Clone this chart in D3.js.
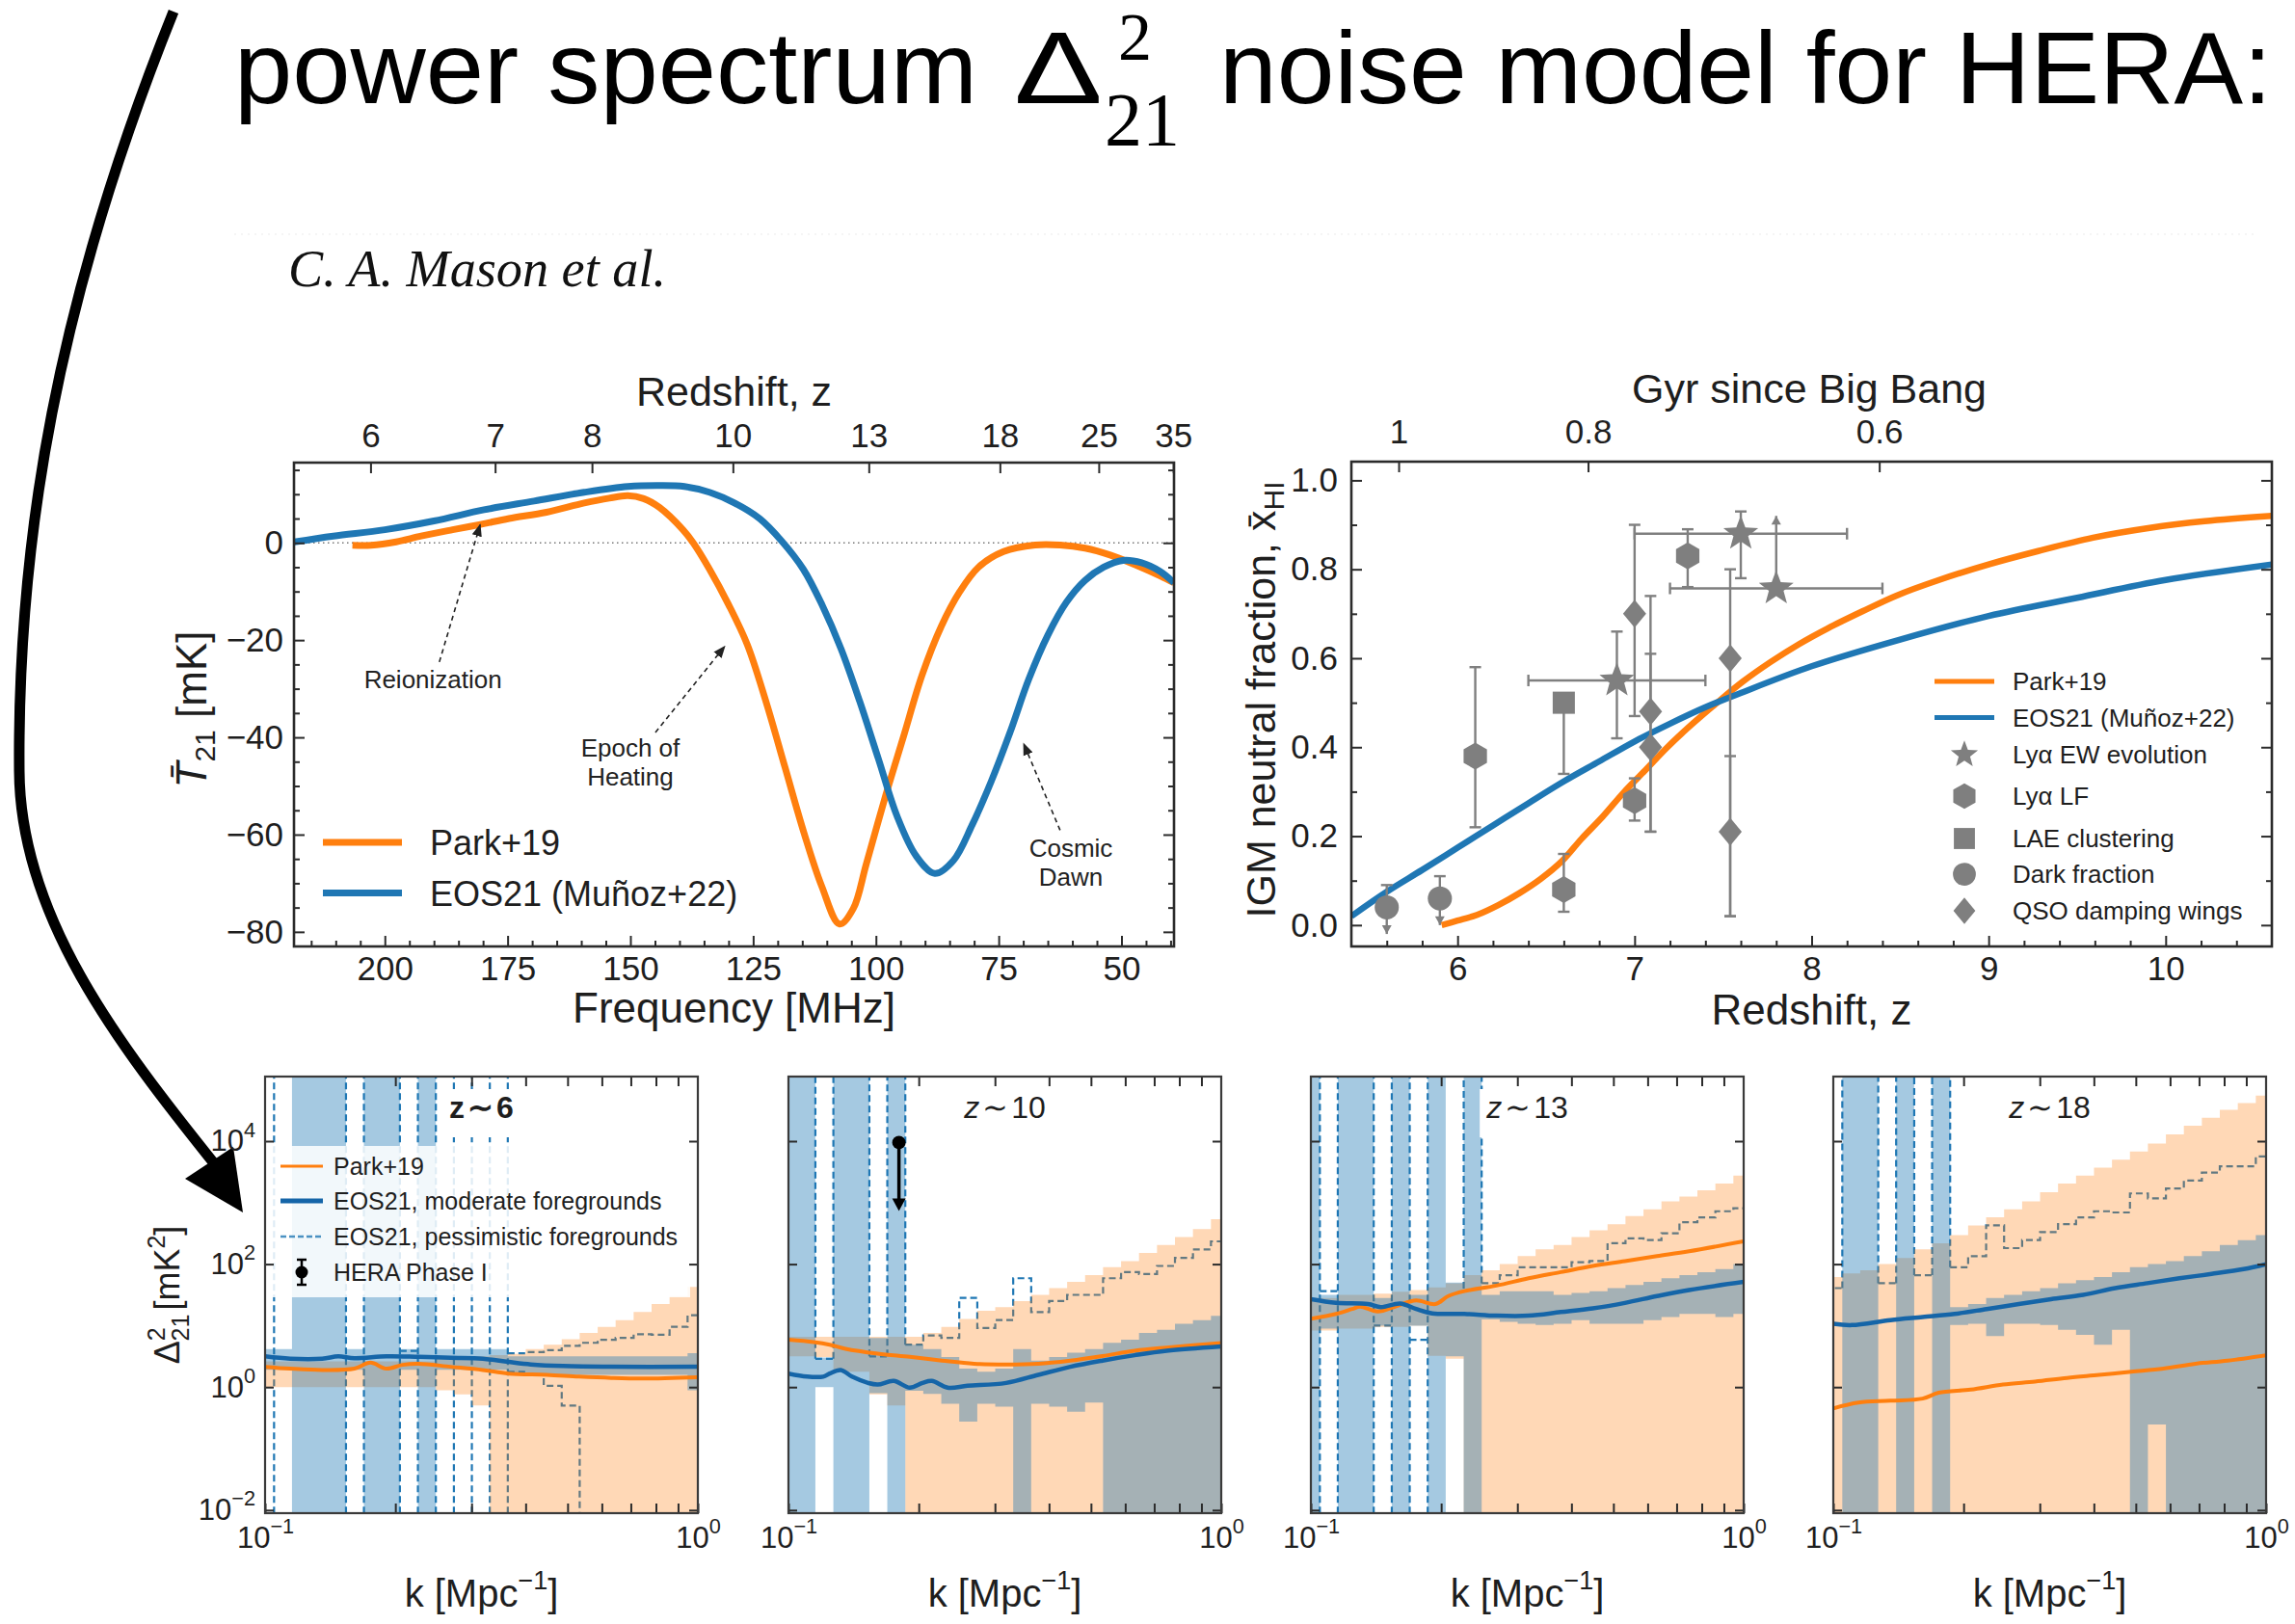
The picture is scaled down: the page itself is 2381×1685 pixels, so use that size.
<!DOCTYPE html>
<html>
<head>
<meta charset="utf-8">
<title>HERA 21-cm power spectrum noise model</title>
<script src="https://cdn.jsdelivr.net/npm/d3@7/dist/d3.min.js"></script>
<style>
html, body { margin: 0; padding: 0; background: #fff; }
svg { display: block; }
text { font-family: "Liberation Sans", Arial, Helvetica, sans-serif; }
</style>
</head>
<body>
<svg id="fig" width="2381" height="1685" viewBox="0 0 2381 1685"></svg>
<script>
const I = Infinity;

// ---------- Global 21-cm brightness temperature vs frequency ----------
const parkFreq = [206.6, 202.8, 197.7, 192.6, 186.2, 180.5, 174.7, 167.1, 159.4, 154.3, 150.5, 147.3, 144.1, 139.3, 137.2, 133.9, 130.0, 126.2, 122.4, 118.5, 114.6, 111.0, 107.4, 104.6, 102.0, 98.2, 94.4, 90.6, 86.7, 82.9, 79.1, 74.0, 67.6, 62.5, 57.4, 52.3, 47.2, 42.1, 39.3];
const parkT = [-0.5, -0.5, 0.2, 1.4, 2.7, 3.8, 5.0, 6.3, 8.2, 9.2, 9.7, 9.1, 7.3, 2.7, 0, -5.4, -12.7, -20.9, -32.6, -46.2, -59.8, -70.7, -78.4, -75.2, -66.2, -52.6, -39.9, -27.2, -17.2, -10.0, -5.0, -1.8, -0.45, -0.45, -1.1, -2.5, -4.5, -6.8, -8.2];
const eosFreq = [218.4, 210.5, 200.0, 190.0, 179.8, 169.6, 159.4, 150.5, 144.1, 139.0, 133.9, 128.8, 123.7, 119.3, 114.8, 111.0, 107.1, 103.3, 99.5, 95.7, 91.8, 88.0, 84.2, 80.4, 76.5, 72.7, 68.9, 65.0, 61.2, 57.4, 53.6, 49.7, 45.9, 42.1, 39.3];
const eosT = [0.2, 1.4, 2.7, 4.5, 6.8, 8.6, 10.4, 11.6, 11.8, 11.6, 10.4, 8.2, 5.0, 0.5, -5.4, -12.7, -21.8, -32.6, -44.4, -56.2, -64.4, -68.0, -65.3, -58.0, -49.0, -39.0, -28.1, -19.0, -12.2, -7.7, -5.0, -3.6, -4.1, -5.9, -8.2];
const freqTicks = [200, 175, 150, 125, 100, 75, 50];
const tempTicks = [0, -20, -40, -60, -80];
const zTopTicks = [6, 7, 8, 10, 13, 18, 25, 35];
// annotations: text anchor, arrow tail, arrow tip (MHz, mK)
const annLines = [["Reionization"], ["Epoch of", "Heating"], ["Cosmic", "Dawn"]];
const annAt = [[190.2, -29.9], [150.0, -43.9], [60.3, -64.6]];
const annTail = [[188.9, -24.5], [144.9, -39.0], [62.5, -59.1]];
const annTip = [[180.6, 3.7], [130.8, -21.3], [69.9, -41.3]];

// ---------- IGM neutral fraction vs redshift ----------
const parkZ = [5.91, 6.0, 6.11, 6.23, 6.35, 6.47, 6.59, 6.70, 6.82, 6.94, 7.06, 7.18, 7.30, 7.46, 7.61, 7.77, 7.93, 8.09, 8.29, 8.48, 8.72, 9.0, 9.28, 9.59, 9.91, 10.22, 10.6];
const parkXHI = [0.0, 0.01, 0.023, 0.045, 0.072, 0.104, 0.144, 0.194, 0.244, 0.299, 0.348, 0.398, 0.443, 0.498, 0.547, 0.592, 0.632, 0.667, 0.706, 0.741, 0.776, 0.811, 0.841, 0.871, 0.893, 0.908, 0.920];
const eosZ = [5.4, 5.6, 5.8, 6.0, 6.2, 6.4, 6.6, 6.8, 7.0, 7.2, 7.4, 7.6, 8.0, 8.5, 9.0, 9.5, 10.0, 10.6];
const eosXHI = [0.02, 0.075, 0.124, 0.174, 0.224, 0.274, 0.323, 0.368, 0.413, 0.453, 0.490, 0.522, 0.582, 0.642, 0.695, 0.736, 0.776, 0.811];
const obsKind = ["circle", "circle", "hexagon", "hexagon", "square", "hexagon", "hexagon", "star", "star", "star", "diamond", "diamond", "diamond", "diamond", "diamond"];
const obsZ = [5.6, 5.9, 6.1, 6.6, 6.6, 7.0, 7.3, 6.9, 7.6, 7.8, 7.0, 7.09, 7.09, 7.54, 7.54];
const obsX = [0.04, 0.06, 0.38, 0.08, 0.50, 0.28, 0.83, 0.55, 0.88, 0.757, 0.70, 0.48, 0.40, 0.60, 0.21];
const obsLo = [-0.02, 0.0, 0.22, 0.03, 0.34, 0.235, 0.76, 0.42, 0.78, 0.757, 0.47, 0.21, 0.21, 0.02, 0.02];
const obsHi = [0.09, 0.11, 0.58, 0.16, 0.50, 0.33, 0.89, 0.66, 0.93, 0.92, 0.90, 0.74, 0.61, 0.80, 0.38];
const obsZLo = [null, null, null, null, null, null, null, 6.4, 7.0, 7.2, null, null, null, null, null];
const obsZHi = [null, null, null, null, null, null, null, 7.4, 8.2, 8.4, null, null, null, null, null];
const obsLimit = ["down", "down", "", "", "", "", "", "", "", "up", "", "", "", "", ""];
const gyrLabels = ["1", "0.8", "0.6"];
const gyrZ = [5.667, 6.737, 8.382];
const legendKinds = ["star", "hexagon", "square", "circle", "diamond"];
const legendKindNames = ["Ly\u03B1 EW evolution", "Ly\u03B1 LF", "LAE clustering", "Dark fraction", "QSO damping wings"];

// ---------- 21-cm power spectra with HERA noise, four redshifts ----------
const panelZ = ["6", "10", "13", "18"];
const kEdges = [0.0953, 0.1049, 0.1154, 0.1270, 0.1397, 0.1538, 0.1692, 0.1862, 0.2049, 0.2255, 0.2481, 0.2731, 0.3005, 0.3306, 0.3638, 0.4003, 0.4405, 0.4847, 0.5333, 0.5869, 0.6457, 0.7106, 0.7818, 0.8603, 0.9468, 1.0418];
// per-bin band edges, log10(Δ² / mK²)
const parkBandLo = [
  [0, 0, 0, 0, 0, 0, 0, 0, 0, 0, -0.05, -0.12, -0.3, -I, -I, -I, -I, -I, -I, -I, -I, -I, -I, -I, -I],
  [0.5, 0.5, 0.49, 0.25, 0.25, -0.12, -0.3, -I, -I, -I, -I, -I, -I, -I, -I, -I, -I, -I, -I, -I, -I, -I, -I, -I, -I],
  [0.92, 0.92, 0.95, 0.95, 0.98, 0.98, 1.0, 0.51, 0.46, -I, -I, -I, -I, -I, -I, -I, -I, -I, -I, -I, -I, -I, -I, -I, -I],
  [-I, -I, -I, -I, -I, -I, -I, -I, -I, -I, -I, -I, -I, -I, -I, -I, -I, -I, -I, -I, -I, -I, -I, -I, -I]
];
const parkBandHi = [
  [0.42, 0.42, 0.42, 0.42, 0.42, 0.42, 0.42, 0.42, 0.42, 0.42, 0.5, 0.5, 0.5, 0.52, 0.54, 0.62, 0.69, 0.78, 0.88, 0.98, 1.09, 1.22, 1.35, 1.48, 1.63],
  [0.82, 0.82, 0.82, 0.82, 0.82, 0.82, 0.82, 0.82, 0.88, 0.98, 1.11, 1.24, 1.30, 1.40, 1.50, 1.61, 1.71, 1.82, 1.95, 2.05, 2.18, 2.31, 2.44, 2.57, 2.73],
  [1.45, 1.45, 1.5, 1.5, 1.52, 1.55, 1.58, 1.62, 1.69, 1.82, 1.90, 2.0, 2.13, 2.24, 2.31, 2.44, 2.55, 2.65, 2.78, 2.89, 3.02, 3.10, 3.20, 3.31, 3.44],
  [1.79, 1.85, 1.90, 2.0, 2.10, 2.24, 2.34, 2.47, 2.63, 2.76, 2.89, 3.02, 3.17, 3.31, 3.44, 3.57, 3.70, 3.83, 3.96, 4.11, 4.25, 4.38, 4.51, 4.62, 4.74]
];
const eosBandLo = [
  [0.28, 0.28, -I, -I, -I, 0.28, -I, -I, 0.28, -I, 0.28, 0.28, 0.28, 0.28, 0.2, 0.2, 0.2, 0.2, 0.2, 0.2, 0.2, 0.2, 0.2, 0.2, -0.05],
  [-I, -I, 0.0, -I, -I, -0.1, -I, -0.06, -0.11, -0.27, -0.56, -0.27, -0.32, -I, -0.27, -0.32, -0.40, -0.25, -I, -I, -I, -I, -I, -I, -I],
  [-I, 0.95, -I, -I, 1.0, -I, 1.0, -I, 0.5, -I, 1.10, 1.06, 1.03, 1.01, 1.03, 1.09, 1.03, 1.03, 1.03, 1.09, 1.14, 1.19, 1.19, 1.14, 1.19],
  [null, -I, -I, null, -I, null, -I, 1.01, 1.03, 0.83, 1.03, 1.03, 1.01, 0.93, 0.85, 0.69, 0.93, -I, -0.61, -I, -I, -I, -I, -I, -I]
];
const eosBandHi = [
  [0.62, 0.62, I, I, I, 0.62, I, I, 0.62, I, 0.62, 0.62, 0.62, 0.62, 0.5, 0.5, 0.5, 0.5, 0.5, 0.5, 0.5, 0.5, 0.5, 0.5, 0.55],
  [I, I, 0.48, I, I, 0.8, I, 0.69, 0.62, 0.49, 0.30, 0.25, 0.30, 0.62, 0.43, 0.49, 0.56, 0.62, 0.72, 0.77, 0.88, 0.93, 1.03, 1.09, 1.16],
  [I, 1.5, I, I, 1.45, I, 1.5, I, 1.7, I, 1.5, 1.56, 1.56, 1.56, 1.50, 1.53, 1.56, 1.61, 1.66, 1.71, 1.77, 1.82, 1.87, 1.92, 2.0],
  [null, I, I, null, I, null, I, 1.30, 1.35, 1.45, 1.50, 1.56, 1.61, 1.69, 1.74, 1.79, 1.87, 1.95, 2.0, 2.05, 2.13, 2.21, 2.31, 2.39, 2.47]
];
const pessHi = [
  [null, null, null, null, null, null, null, null, 0.59, null, null, null, null, null, 0.55, 0.57, 0.60, 0.67, 0.72, 0.77, 0.80, 0.86, 0.85, 0.98, 1.17],
  [null, null, null, null, null, null, null, 0.69, 0.84, 0.80, 1.45, 0.96, 1.09, 1.77, 1.22, 1.40, 1.50, 1.50, 1.77, 1.87, 1.84, 1.97, 2.10, 2.24, 2.37],
  [null, 1.56, null, null, null, null, null, null, null, null, 1.69, 1.82, 1.95, 1.95, 1.95, 2.03, 2.05, 2.34, 2.42, 2.39, 2.50, 2.68, 2.76, 2.86, 2.91],
  [1.61, null, null, 1.69, null, 1.82, null, 1.95, 2.13, 2.63, 2.26, 2.39, 2.52, 2.65, 2.76, 2.86, 2.84, 3.15, 3.07, 3.23, 3.36, 3.49, 3.59, 3.59, 3.75]
];
const pessLo = [
  [null, null, null, null, null, null, null, null, null, null, null, null, null, null, 0.25, 0.2, 0.02, -0.3, -I, -I, -I, -I, -I, -I, -I],
  [null, null, 0.46, null, null, 0.5, null, null, null, null, null, null, null, null, null, null, null, null, null, null, null, null, null, null, null],
  [null, null, null, null, 1.0, null, 0.77, null, null, null, null, null, null, null, null, null, null, null, null, null, null, null, null, null, null],
  [null, null, null, null, null, null, null, null, null, null, null, null, null, null, null, null, null, null, null, null, null, null, null, null, null]
];
// vertical edges of the pessimistic-foreground bins: [k, from, to] in log10 Δ²
const pessWalls = [
  [[0.1049, -I, I], [0.1538, -I, I], [0.1692, -I, I], [0.2049, -I, I], [0.2255, -I, I], [0.2481, -I, I], [0.2731, -I, I], [0.3005, -I, I], [0.3306, -I, I], [0.3638, -I, I]],
  [[0.1154, 0.46, I], [0.1270, 0.46, I], [0.1538, 0.5, I], [0.1692, 0.5, I], [0.1862, 0.69, I]],
  [[0.1049, -I, I], [0.1154, -I, I], [0.1397, -I, I], [0.1538, -I, I], [0.1692, -I, I], [0.1862, -I, I], [0.2255, 1.6, I], [0.2481, 1.69, I]],
  [[0.1049, 1.61, I], [0.1270, 1.69, I], [0.1397, 1.69, I], [0.1538, 1.82, I], [0.1692, 1.82, I], [0.1862, 1.95, I]]
];
// model power spectra, Δ² in mK²
const parkK = [
  [0.100, 0.1143, 0.1355, 0.1608, 0.1751, 0.1907, 0.2077, 0.2262, 0.2684, 0.3184, 0.3650, 0.4481, 0.5316, 0.6306, 0.7479, 1.0],
  [0.100, 0.1143, 0.1245, 0.1355, 0.1608, 0.1907, 0.2262, 0.2684, 0.3184, 0.3778, 0.4481, 0.5316, 0.6306, 0.7479, 1.0],
  [0.100, 0.1143, 0.1245, 0.1299, 0.1427, 0.1580, 0.1751, 0.1940, 0.2077, 0.2262, 0.2684, 0.3184, 0.3778, 0.4481, 0.5316, 0.6306, 0.7479, 1.0],
  [0.100, 0.1143, 0.1355, 0.1608, 0.1751, 0.2077, 0.2465, 0.2924, 0.3468, 0.4114, 0.4881, 0.5788, 0.6867, 0.8147, 1.0]
];
const parkP = [
  [2.14, 2.0, 1.9, 2.0, 2.5, 2.0, 2.3, 2.4, 2.14, 1.9, 1.66, 1.58, 1.48, 1.41, 1.38, 1.45],
  [5.9, 5.4, 4.9, 4.2, 3.5, 3.1, 2.7, 2.4, 2.34, 2.4, 2.7, 3.2, 3.9, 4.4, 5.2],
  [12.9, 15.5, 18.6, 20.4, 17.0, 20.9, 25.7, 22.4, 30.2, 36.3, 44.7, 58.9, 74.1, 93.3, 112, 135, 162, 234],
  [0.45, 0.56, 0.60, 0.65, 0.81, 0.91, 1.10, 1.23, 1.41, 1.58, 1.78, 2.0, 2.4, 2.7, 3.3]
];
const eosK = [
  [0.100, 0.1143, 0.1355, 0.1476, 0.1608, 0.1907, 0.2262, 0.2684, 0.3184, 0.3650, 0.4114, 0.4881, 0.6306, 1.0],
  [0.100, 0.1104, 0.1203, 0.1245, 0.1321, 0.1402, 0.1527, 0.1608, 0.1751, 0.1907, 0.2040, 0.2144, 0.2332, 0.2592, 0.3184, 0.3778, 0.4481, 0.5316, 0.6306, 0.7479, 1.0],
  [0.100, 0.1143, 0.1355, 0.1451, 0.1608, 0.1751, 0.1907, 0.2262, 0.2684, 0.3184, 0.3778, 0.4481, 0.5316, 0.6306, 0.7479, 1.0],
  [0.100, 0.1104, 0.1355, 0.1608, 0.1907, 0.2262, 0.2684, 0.3184, 0.3778, 0.4481, 0.5316, 0.6306, 0.7479, 0.887, 1.0]
];
const eosP = [
  [3.16, 2.9, 2.9, 3.16, 2.95, 3.16, 3.1, 3.0, 2.9, 2.57, 2.34, 2.2, 2.14, 2.14],
  [1.66, 1.48, 1.48, 1.66, 1.9, 1.48, 1.17, 1.1, 1.26, 0.98, 1.17, 1.26, 0.98, 1.05, 1.17, 1.58, 2.14, 2.7, 3.3, 3.9, 4.6],
  [26.9, 23.4, 22.4, 20.0, 22.9, 18.6, 15.8, 15.5, 14.5, 14.5, 16.6, 19.1, 23.4, 30.2, 38.0, 51.3],
  [10.7, 10.2, 12.3, 13.8, 15.5, 18.6, 22.4, 26.9, 31.6, 40.7, 49.0, 58.9, 69.2, 83, 100]
];
const heraPanel = 1, heraK = 0.18, heraLimit = 9500;
const powTicks = [1e-2, 1, 1e2, 1e4];
const powTickExp = ["\u22122", "0", "2", "4"];
const kMinor = [0.2, 0.3, 0.4, 0.5, 0.6, 0.7, 0.8, 0.9];

// ======================================================================
const SANS = '"Liberation Sans", Arial, Helvetica, sans-serif';
const SERIF = '"Liberation Serif", "Times New Roman", Times, serif';
const C_ORANGE = "#ff7f0e", C_BLUE = "#1f77b4", C_BLUE_DARK = "#1565a8", C_GRAY = "#7f7f7f";
const INK = "#1e1e1e";
const svg = d3.select("#fig");
const defs = svg.append("defs");

function styleAxis(g, fs) {
  g.select(".domain").remove();
  g.selectAll(".tick line").attr("stroke", "#2b2b2b").attr("stroke-width", 2);
  g.selectAll(".tick text").attr("font-size", fs).attr("fill", INK).style("font-family", SANS);
}

// ---------- headline ----------
const head = svg.append("g").attr("fill", "#000");
head.append("text").attr("x", 243).attr("y", 107).attr("font-size", 106)
  .attr("textLength", 771).attr("lengthAdjust", "spacingAndGlyphs").text("power spectrum");
head.append("text").attr("x", 1052).attr("y", 107).attr("font-size", 106)
  .attr("textLength", 92).attr("lengthAdjust", "spacingAndGlyphs").text("\u0394");
head.append("text").attr("x", 1160).attr("y", 62).attr("font-size", 70).style("font-family", SERIF).text("2");
head.append("text").attr("x", 1146).attr("y", 150).attr("font-size", 78).style("font-family", SERIF).text("21");
head.append("text").attr("x", 1265).attr("y", 107).attr("font-size", 106)
  .attr("textLength", 1092).attr("lengthAdjust", "spacingAndGlyphs").text("noise model for HERA:");

// big curved pointer
svg.append("path")
  .attr("d", "M180,12 C59,313 18,560 20,800 C21,950 120,1080 226,1212")
  .attr("fill", "none").attr("stroke", "#000").attr("stroke-width", 11);
svg.append("path").attr("d", "M252,1258 L242,1190 L192,1223 Z").attr("fill", "#000");

// page rule and running head
svg.append("line").attr("x1", 243).attr("x2", 2338).attr("y1", 243).attr("y2", 243)
  .attr("stroke", "#ececec").attr("stroke-width", 1.2).attr("stroke-dasharray", "2,5");
svg.append("text").attr("x", 299).attr("y", 297).attr("font-size", 54)
  .style("font-family", SERIF).style("font-style", "italic")
  .attr("textLength", 392).attr("lengthAdjust", "spacingAndGlyphs").attr("fill", "#111")
  .text("C. A. Mason et al.");

// ======================================================================
// Global signal panel
const A = { x0: 305, x1: 1218, y0: 480, y1: 982 };
const xFreq = d3.scaleLinear().domain([218.5, 39.3]).range([A.x0, A.x1]);
const yTemp = d3.scaleLinear().domain([-83, 16.5]).range([A.y1, A.y0]);
const gA = svg.append("g");
defs.append("clipPath").attr("id", "clipA").append("rect")
  .attr("x", A.x0).attr("y", A.y0).attr("width", A.x1 - A.x0).attr("height", A.y1 - A.y0);
const bodyA = gA.append("g").attr("clip-path", "url(#clipA)");
bodyA.append("line").attr("x1", A.x0).attr("x2", A.x1).attr("y1", yTemp(0)).attr("y2", yTemp(0))
  .attr("stroke", "#777").attr("stroke-width", 1.6).attr("stroke-dasharray", "1.5,3.5");
const lineA = d3.line().x(d => xFreq(d[0])).y(d => yTemp(d[1])).curve(d3.curveCatmullRom.alpha(0.5));
bodyA.append("path").attr("d", lineA(d3.zip(parkFreq, parkT)))
  .attr("fill", "none").attr("stroke", C_ORANGE).attr("stroke-width", 7).attr("stroke-linejoin", "round");
bodyA.append("path").attr("d", lineA(d3.zip(eosFreq, eosT)))
  .attr("fill", "none").attr("stroke", C_BLUE).attr("stroke-width", 7).attr("stroke-linejoin", "round");

// annotations
defs.append("marker").attr("id", "annHead").attr("viewBox", "0 0 10 10")
  .attr("refX", 9).attr("refY", 5).attr("markerWidth", 13).attr("markerHeight", 13)
  .attr("markerUnits", "userSpaceOnUse").attr("orient", "auto")
  .append("path").attr("d", "M0,1 L10,5 L0,9 Z").attr("fill", "#222");
annLines.forEach((lines, i) => {
  gA.append("line")
    .attr("x1", xFreq(annTail[i][0])).attr("y1", yTemp(annTail[i][1]))
    .attr("x2", xFreq(annTip[i][0])).attr("y2", yTemp(annTip[i][1]))
    .attr("stroke", "#222").attr("stroke-width", 1.6).attr("stroke-dasharray", "5,4")
    .attr("marker-end", "url(#annHead)");
  const t = gA.append("text").attr("text-anchor", "middle").attr("font-size", 26).attr("fill", "#222")
    .attr("x", xFreq(annAt[i][0])).attr("y", yTemp(annAt[i][1]));
  lines.forEach((s, j) => t.append("tspan").attr("x", xFreq(annAt[i][0])).attr("dy", j === 0 ? 0 : 30).text(s));
});

// legend
[["Park+19", C_ORANGE], ["EOS21 (Mu\u00F1oz+22)", C_BLUE]].forEach((e, i) => {
  const y = 874 + i * 52.5;
  gA.append("line").attr("x1", 335).attr("x2", 417).attr("y1", y).attr("y2", y)
    .attr("stroke", e[1]).attr("stroke-width", 7);
  gA.append("text").attr("x", 446).attr("y", y + 13).attr("font-size", 36).attr("fill", INK).text(e[0]);
});

// axes
gA.append("g").attr("transform", `translate(0,${A.y1})`)
  .call(d3.axisBottom(xFreq).tickValues(freqTicks).tickSize(-11).tickPadding(10).tickFormat(d3.format("d")))
  .call(g => styleAxis(g, 35));
gA.append("g").attr("transform", `translate(0,${A.y1})`)
  .call(d3.axisBottom(xFreq).tickValues(d3.range(40, 220, 5).filter(v => v % 25 !== 0)).tickSize(-6).tickFormat(""))
  .call(g => styleAxis(g, 35));
gA.append("g").attr("transform", `translate(0,${A.y0})`)
  .call(d3.axisTop(xFreq).tickValues(zTopTicks.map(z => 1420.4 / (1 + z))).tickSize(-11).tickPadding(16)
    .tickFormat((d, i) => String(zTopTicks[i])))
  .call(g => styleAxis(g, 35));
gA.append("g").attr("transform", `translate(${A.x0},0)`)
  .call(d3.axisLeft(yTemp).tickValues(tempTicks).tickSize(-11).tickPadding(11))
  .call(g => styleAxis(g, 35));
gA.append("g").attr("transform", `translate(${A.x0},0)`)
  .call(d3.axisLeft(yTemp).tickValues(d3.range(-80, 16, 5).filter(v => v % 20 !== 0)).tickSize(-6).tickFormat(""))
  .call(g => styleAxis(g, 35));
gA.append("g").attr("transform", `translate(${A.x1},0)`)
  .call(d3.axisRight(yTemp).tickValues(tempTicks).tickSize(-11).tickFormat(""))
  .call(g => styleAxis(g, 35));
gA.append("g").attr("transform", `translate(${A.x1},0)`)
  .call(d3.axisRight(yTemp).tickValues(d3.range(-80, 16, 5).filter(v => v % 20 !== 0)).tickSize(-6).tickFormat(""))
  .call(g => styleAxis(g, 35));
gA.append("rect").attr("x", A.x0).attr("y", A.y0).attr("width", A.x1 - A.x0).attr("height", A.y1 - A.y0)
  .attr("fill", "none").attr("stroke", "#2b2b2b").attr("stroke-width", 2.6);
gA.append("text").attr("x", (A.x0 + A.x1) / 2).attr("y", 1061).attr("text-anchor", "middle")
  .attr("font-size", 44).attr("fill", INK).text("Frequency [MHz]");
gA.append("text").attr("x", (A.x0 + A.x1) / 2).attr("y", 421).attr("text-anchor", "middle")
  .attr("font-size", 43).attr("fill", INK).text("Redshift, z");
{
  const t = gA.append("text").attr("transform", "translate(214,736) rotate(-90)")
    .attr("text-anchor", "middle").attr("font-size", 44).attr("fill", INK);
  t.append("tspan").style("font-style", "italic").text("T\u0304");
  t.append("tspan").attr("font-size", 30).attr("dy", 9).text("21");
  t.append("tspan").attr("dy", -9).text(" [mK]");
}

// ======================================================================
// Neutral fraction panel
const B = { x0: 1402, x1: 2357, y0: 479, y1: 982 };
const xZ = d3.scaleLinear().domain([5.4, 10.6]).range([B.x0, B.x1]);
const yX = d3.scaleLinear().domain([-0.048, 1.042]).range([B.y1, B.y0]);
const gB = svg.append("g");
defs.append("clipPath").attr("id", "clipB").append("rect")
  .attr("x", B.x0).attr("y", B.y0).attr("width", B.x1 - B.x0).attr("height", B.y1 - B.y0);
const bodyB = gB.append("g").attr("clip-path", "url(#clipB)");
const lineB = d3.line().x(d => xZ(d[0])).y(d => yX(d[1])).curve(d3.curveCatmullRom.alpha(0.5));
bodyB.append("path").attr("d", lineB(d3.zip(parkZ, parkXHI)))
  .attr("fill", "none").attr("stroke", C_ORANGE).attr("stroke-width", 6.5);
bodyB.append("path").attr("d", lineB(d3.zip(eosZ, eosXHI)))
  .attr("fill", "none").attr("stroke", C_BLUE).attr("stroke-width", 6.5);

function markerPath(kind, s) {
  if (kind === "circle") return d3.symbol(d3.symbolCircle, Math.PI * (12.5 * s) ** 2)();
  if (kind === "square") return d3.symbol(d3.symbolSquare, (23 * s) ** 2)();
  if (kind === "diamond") return `M0,${-14.5 * s}L${12 * s},0L0,${14.5 * s}L${-12 * s},0Z`;
  if (kind === "hexagon") {
    const r = 14 * s;
    return d3.range(6).map(k => { const a = -Math.PI / 2 + k * Math.PI / 3; return (k ? "L" : "M") + (r * Math.cos(a)).toFixed(2) + "," + (r * Math.sin(a)).toFixed(2); }).join("") + "Z";
  }
  const ro = 19 * s, ri = 8 * s;
  return d3.range(10).map(k => { const a = -Math.PI / 2 + k * Math.PI / 5; const r = k % 2 ? ri : ro; return (k ? "L" : "M") + (r * Math.cos(a)).toFixed(2) + "," + (r * Math.sin(a)).toFixed(2); }).join("") + "Z";
}
const errG = bodyB.append("g").attr("stroke", C_GRAY).attr("stroke-width", 2.4).attr("fill", "none");
obsZ.forEach((z, i) => {
  const cx = xZ(z), yl = yX(obsLo[i]), yh = yX(obsHi[i]);
  errG.append("line").attr("x1", cx).attr("x2", cx).attr("y1", yl).attr("y2", yh);
  if (obsLimit[i] !== "down") errG.append("line").attr("x1", cx - 6).attr("x2", cx + 6).attr("y1", yl).attr("y2", yl);
  if (obsLimit[i] !== "up") errG.append("line").attr("x1", cx - 6).attr("x2", cx + 6).attr("y1", yh).attr("y2", yh);
  if (obsLimit[i] === "down") bodyB.append("path").attr("d", `M${cx - 5},${yl - 9}L${cx + 5},${yl - 9}L${cx},${yl}Z`).attr("fill", C_GRAY);
  if (obsLimit[i] === "up") bodyB.append("path").attr("d", `M${cx - 5},${yh + 9}L${cx + 5},${yh + 9}L${cx},${yh}Z`).attr("fill", C_GRAY);
  if (obsZLo[i] != null) {
    const xl = xZ(obsZLo[i]), xh = xZ(obsZHi[i]), cy = yX(obsX[i]);
    errG.append("line").attr("x1", xl).attr("x2", xh).attr("y1", cy).attr("y2", cy);
    errG.append("line").attr("x1", xl).attr("x2", xl).attr("y1", cy - 6).attr("y2", cy + 6);
    errG.append("line").attr("x1", xh).attr("x2", xh).attr("y1", cy - 6).attr("y2", cy + 6);
  }
});
obsZ.forEach((z, i) => {
  bodyB.append("path").attr("d", markerPath(obsKind[i], 1))
    .attr("transform", `translate(${xZ(z)},${yX(obsX[i])})`).attr("fill", C_GRAY);
});

// legend
[["Park+19", C_ORANGE], ["EOS21 (Mu\u00F1oz+22)", C_BLUE]].forEach((e, i) => {
  const y = 707 + i * 37.5;
  gB.append("line").attr("x1", 2007).attr("x2", 2069).attr("y1", y).attr("y2", y).attr("stroke", e[1]).attr("stroke-width", 5);
  gB.append("text").attr("x", 2088).attr("y", y + 9).attr("font-size", 26).attr("fill", INK).text(e[0]);
});
legendKinds.forEach((kind, i) => {
  const y = [783, 826, 870, 907, 945][i];
  gB.append("path").attr("d", markerPath(kind, kind === "star" ? 0.78 : 0.95))
    .attr("transform", `translate(2038,${y})`).attr("fill", C_GRAY);
  gB.append("text").attr("x", 2088).attr("y", y + 9).attr("font-size", 26).attr("fill", INK).text(legendKindNames[i]);
});

// axes
gB.append("g").attr("transform", `translate(0,${B.y1})`)
  .call(d3.axisBottom(xZ).tickValues([6, 7, 8, 9, 10]).tickSize(-11).tickPadding(10).tickFormat(d3.format("d")))
  .call(g => styleAxis(g, 35));
gB.append("g").attr("transform", `translate(0,${B.y1})`)
  .call(d3.axisBottom(xZ).tickValues(d3.range(5.6, 10.6, 0.2).filter(v => Math.abs(v - Math.round(v)) > 0.05)).tickSize(-6).tickFormat(""))
  .call(g => styleAxis(g, 35));
gB.append("g").attr("transform", `translate(0,${B.y0})`)
  .call(d3.axisTop(xZ).tickValues(gyrZ).tickSize(-11).tickPadding(19).tickFormat((d, i) => gyrLabels[i]))
  .call(g => styleAxis(g, 35));
[[B.x0, d3.axisLeft, true], [B.x1, d3.axisRight, false]].forEach(([x, ax, lab]) => {
  gB.append("g").attr("transform", `translate(${x},0)`)
    .call(ax(yX).tickValues([0, 0.2, 0.4, 0.6, 0.8, 1.0]).tickSize(-11).tickPadding(14).tickFormat(lab ? d3.format(".1f") : ""))
    .call(g => styleAxis(g, 35));
  gB.append("g").attr("transform", `translate(${x},0)`)
    .call(ax(yX).tickValues([0.1, 0.3, 0.5, 0.7, 0.9]).tickSize(-6).tickFormat(""))
    .call(g => styleAxis(g, 35));
});
gB.append("rect").attr("x", B.x0).attr("y", B.y0).attr("width", B.x1 - B.x0).attr("height", B.y1 - B.y0)
  .attr("fill", "none").attr("stroke", "#2b2b2b").attr("stroke-width", 2.6);
gB.append("text").attr("x", (B.x0 + B.x1) / 2).attr("y", 1063).attr("text-anchor", "middle")
  .attr("font-size", 44).attr("fill", INK).text("Redshift, z");
gB.append("text").attr("x", 1877).attr("y", 418).attr("text-anchor", "middle")
  .attr("font-size", 43).attr("fill", INK).text("Gyr since Big Bang");
{
  const t = gB.append("text").attr("transform", "translate(1323,726) rotate(-90)")
    .attr("text-anchor", "middle").attr("font-size", 43).attr("fill", INK);
  t.append("tspan").text("IGM neutral fraction, x\u0304");
  t.append("tspan").attr("font-size", 30).attr("dy", 9).text("HI");
}

// ======================================================================
// Power spectrum panels
const panelLeft = [275, 818, 1360, 1902];
const PW = 449, PT = 1117, PB = 1570;
const clampDex = v => Math.max(-2.4, Math.min(5.4, v));

panelZ.forEach((zl, p) => {
  const left = panelLeft[p];
  const xK = d3.scaleLog().domain([0.1, 1]).range([left, left + PW]);
  const yP = d3.scaleLog().domain([Math.pow(10, -2.05), Math.pow(10, 5.05)]).range([PB, PT]);
  const ys = v => yP(Math.pow(10, clampDex(v)));
  const g = svg.append("g");
  defs.append("clipPath").attr("id", "clipP" + p).append("rect")
    .attr("x", left).attr("y", PT).attr("width", PW).attr("height", PB - PT);
  const body = g.append("g").attr("clip-path", `url(#clipP${p})`);

  function stepPath(vals) {
    let d = "", open = false;
    vals.forEach((v, b) => {
      if (v == null) { open = false; return; }
      const xa = xK(kEdges[b]), xb = xK(kEdges[b + 1]), y = ys(v);
      d += (open ? "L" : "M") + xa.toFixed(2) + "," + y.toFixed(2) + "L" + xb.toFixed(2) + "," + y.toFixed(2);
      open = true;
    });
    return d;
  }
  function bandPath(lo, hi) {
    let d = "", i = 0;
    const n = lo.length;
    const ok = b => lo[b] != null && hi[b] != null;
    while (i < n) {
      if (!ok(i)) { i++; continue; }
      let j = i;
      while (j + 1 < n && ok(j + 1)) j++;
      const pts = [];
      for (let b = i; b <= j; b++) { pts.push([xK(kEdges[b]), ys(hi[b])], [xK(kEdges[b + 1]), ys(hi[b])]); }
      for (let b = j; b >= i; b--) { pts.push([xK(kEdges[b + 1]), ys(lo[b])], [xK(kEdges[b]), ys(lo[b])]); }
      d += "M" + pts.map(q => q[0].toFixed(2) + "," + q[1].toFixed(2)).join("L") + "Z";
      i = j + 1;
    }
    return d;
  }

  // pessimistic-foreground outline sits underneath the shaded bands
  const pess = body.append("g").attr("fill", "none").attr("stroke", C_BLUE).attr("stroke-width", 2.2).attr("stroke-dasharray", "7,4");
  pess.append("path").attr("d", stepPath(pessHi[p]));
  pess.append("path").attr("d", stepPath(pessLo[p]));
  pessWalls[p].forEach(w => {
    pess.append("line").attr("x1", xK(w[0])).attr("x2", xK(w[0])).attr("y1", ys(w[1])).attr("y2", ys(w[2]));
  });
  // Park+19 noise band
  body.append("path").attr("d", bandPath(parkBandLo[p], parkBandHi[p])).attr("fill", C_ORANGE).attr("fill-opacity", 0.3);
  // EOS21 moderate-foreground noise band
  body.append("path").attr("d", bandPath(eosBandLo[p], eosBandHi[p])).attr("fill", C_BLUE).attr("fill-opacity", 0.4);
  // model spectra
  const lineP = d3.line().x(d => xK(d[0])).y(d => yP(d[1])).curve(d3.curveCatmullRom.alpha(0.5));
  body.append("path").attr("d", lineP(d3.zip(parkK[p], parkP[p]))).attr("fill", "none")
    .attr("stroke", C_ORANGE).attr("stroke-width", 4);
  body.append("path").attr("d", lineP(d3.zip(eosK[p], eosP[p]))).attr("fill", "none")
    .attr("stroke", C_BLUE_DARK).attr("stroke-width", 4.5);
  // HERA Phase I upper limit
  if (p === heraPanel) {
    const hx = xK(heraK), hy = yP(heraLimit);
    body.append("line").attr("x1", hx).attr("x2", hx).attr("y1", hy).attr("y2", hy + 62)
      .attr("stroke", "#000").attr("stroke-width", 3.5);
    body.append("path").attr("d", `M${hx - 7},${hy + 58}L${hx + 7},${hy + 58}L${hx},${hy + 71}Z`).attr("fill", "#000");
    body.append("circle").attr("cx", hx).attr("cy", hy).attr("r", 7).attr("fill", "#000");
  }

  // redshift tag
  const cx = left + PW / 2;
  const tag = g.append("g");
  const tt = tag.append("text").attr("x", cx).attr("y", 1160).attr("text-anchor", "middle")
    .attr("font-size", 32).attr("fill", INK).attr("font-weight", p === 0 ? "bold" : "normal");
  tt.append("tspan").style("font-style", p === 0 ? "normal" : "italic").text("z");
  tt.append("tspan").attr("dx", 3).text("\u223C");
  tt.append("tspan").attr("dx", 3).text(zl);
  const tw = tt.node().getComputedTextLength();
  tag.insert("rect", "text").attr("x", cx - tw / 2 - 10).attr("y", 1130).attr("width", tw + 20).attr("height", 50).attr("fill", "#fff");

  // legend in the first panel
  if (p === 0) {
    const lg = g.append("g");
    lg.append("rect").attr("x", 277).attr("y", 1189).attr("width", 439).attr("height", 157).attr("fill", "#fff").attr("fill-opacity", 0.86);
    const rows = [1210, 1246, 1283, 1320];
    lg.append("line").attr("x1", 291).attr("x2", 335).attr("y1", rows[0]).attr("y2", rows[0]).attr("stroke", C_ORANGE).attr("stroke-width", 3);
    lg.append("line").attr("x1", 291).attr("x2", 335).attr("y1", rows[1]).attr("y2", rows[1]).attr("stroke", C_BLUE_DARK).attr("stroke-width", 5);
    lg.append("line").attr("x1", 291).attr("x2", 335).attr("y1", rows[2]).attr("y2", rows[2]).attr("stroke", C_BLUE).attr("stroke-opacity", 0.8).attr("stroke-width", 2.4).attr("stroke-dasharray", "6,3");
    lg.append("line").attr("x1", 313).attr("x2", 313).attr("y1", rows[3] - 13).attr("y2", rows[3] + 13).attr("stroke", "#000").attr("stroke-width", 2.5);
    lg.append("line").attr("x1", 308).attr("x2", 318).attr("y1", rows[3] - 13).attr("y2", rows[3] - 13).attr("stroke", "#000").attr("stroke-width", 2.5);
    lg.append("line").attr("x1", 308).attr("x2", 318).attr("y1", rows[3] + 13).attr("y2", rows[3] + 13).attr("stroke", "#000").attr("stroke-width", 2.5);
    lg.append("circle").attr("cx", 313).attr("cy", rows[3]).attr("r", 6.5).attr("fill", "#000");
    ["Park+19", "EOS21, moderate foregrounds", "EOS21, pessimistic foregrounds", "HERA Phase I"].forEach((s, i) => {
      lg.append("text").attr("x", 346).attr("y", rows[i] + 9).attr("font-size", 25).attr("fill", INK).text(s);
    });
  }

  // axes
  const powLabels = (sel, fs) => sel.selectAll(".tick text").each(function (d) {
    const t = d3.select(this); const e = t.text(); t.text("");
    t.append("tspan").text("10");
    t.append("tspan").attr("dy", -0.48 * fs).attr("font-size", 0.7 * fs).text(e);
  });
  g.append("g").attr("transform", `translate(0,${PB})`)
    .call(d3.axisBottom(xK).tickValues([0.1, 1]).tickSize(-10).tickPadding(14).tickFormat(d => d >= 1 ? "0" : "\u22121"))
    .call(s => styleAxis(s, 31)).call(s => powLabels(s, 31));
  g.append("g").attr("transform", `translate(0,${PB})`)
    .call(d3.axisBottom(xK).tickValues(kMinor).tickSize(-10).tickFormat("")).call(s => styleAxis(s, 31));
  g.append("g").attr("transform", `translate(0,${PT})`)
    .call(d3.axisTop(xK).tickValues(kMinor).tickSize(-10).tickFormat("")).call(s => styleAxis(s, 31));
  g.append("g").attr("transform", `translate(${left},0)`)
    .call(d3.axisLeft(yP).tickValues(powTicks).tickSize(-9).tickPadding(10)
      .tickFormat((d, i) => p === 0 ? powTickExp[i] : ""))
    .call(s => styleAxis(s, 31)).call(s => { if (p === 0) powLabels(s, 31); });
  g.append("g").attr("transform", `translate(${left + PW},0)`)
    .call(d3.axisRight(yP).tickValues(powTicks).tickSize(-9).tickFormat("")).call(s => styleAxis(s, 31));
  g.append("rect").attr("x", left).attr("y", PT).attr("width", PW).attr("height", PB - PT)
    .attr("fill", "none").attr("stroke", "#3a3a3a").attr("stroke-width", 2.2);

  const kl = g.append("text").attr("x", cx).attr("y", 1667).attr("text-anchor", "middle").attr("font-size", 40).attr("fill", INK);
  kl.append("tspan").text("k [Mpc");
  kl.append("tspan").attr("font-size", 27).attr("dy", -18).text("\u22121");
  kl.append("tspan").attr("dy", 18).text("]");

  if (p === 0) {
    const yl = g.append("text").attr("transform", `translate(186,${(PT + PB) / 2}) rotate(-90)`)
      .attr("text-anchor", "middle").attr("font-size", 36).attr("fill", INK);
    yl.append("tspan").text("\u0394");
    yl.append("tspan").attr("font-size", 25).attr("dy", -15).text("2");
    yl.append("tspan").attr("font-size", 25).attr("dx", -14).attr("dy", 25).text("21");
    yl.append("tspan").attr("dx", 4).attr("dy", -10).text("[mK");
    yl.append("tspan").attr("font-size", 25).attr("dy", -15).text("2");
    yl.append("tspan").attr("dy", 15).text("]");
  }
});
</script>
</body>
</html>
